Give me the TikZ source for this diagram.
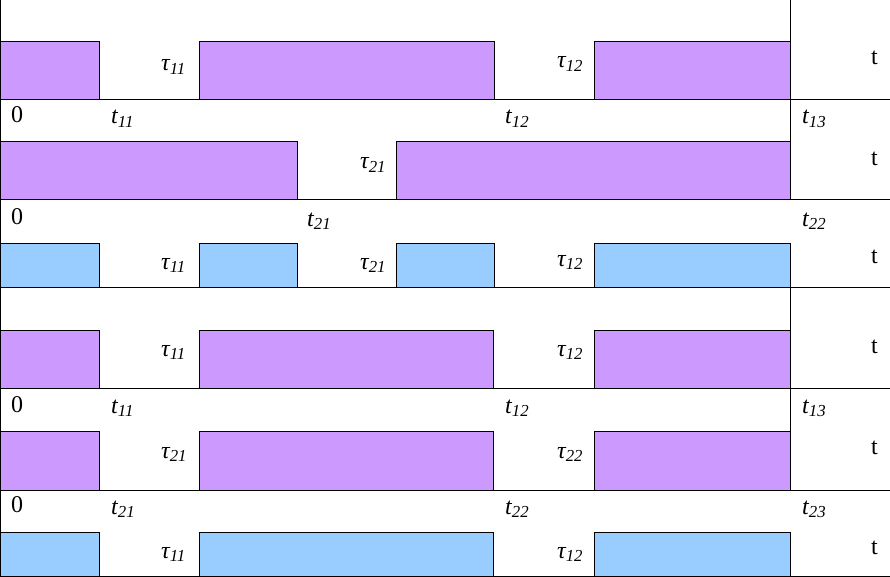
\documentclass[tikz,border=0pt]{standalone}
\usepackage{fontspec}
\setmainfont{Liberation Serif}
\definecolor{pur}{HTML}{CC99FF}
\definecolor{blu}{HTML}{99CCFF}
\begin{document}
\begin{tikzpicture}[x=1pt,y=-1pt,
  pbox/.style={fill=pur,draw=black,line width=1pt},
  bbox/.style={fill=blu,draw=black,line width=1pt},
  axis/.style={draw=black,line width=1pt},
  lbl/.style={anchor=base west,inner sep=0pt,font=\fontsize{24}{28}\selectfont}]
\useasboundingbox (0,0) rectangle (890,577);
\fill[white] (0,0) rectangle (890,577);
% row 1
\draw[pbox] (0.5,42) rectangle (99,100);
\draw[pbox] (199,42) rectangle (494,100);
\draw[pbox] (594,42) rectangle (790,100);
% row 2
\draw[pbox] (0.5,142) rectangle (297,200);
\draw[pbox] (396,142) rectangle (790,200);
% row 3
\draw[bbox] (0.5,243) rectangle (99,287);
\draw[bbox] (199,243) rectangle (297,287);
\draw[bbox] (396,243) rectangle (494,287);
\draw[bbox] (594,243) rectangle (790,287);
% row 4
\draw[pbox] (0.5,330) rectangle (99,388);
\draw[pbox] (199,330) rectangle (493,388);
\draw[pbox] (594,330) rectangle (790,388);
% row 5
\draw[pbox] (0.5,431) rectangle (99,490);
\draw[pbox] (199,431) rectangle (493,490);
\draw[pbox] (594,431) rectangle (790,490);
% row 6
\draw[bbox] (0.5,532) rectangle (99,576.5);
\draw[bbox] (199,532) rectangle (493,576.5);
\draw[bbox] (594,532) rectangle (790,576.5);
% axes
\draw[axis] (0.5,0) -- (0.5,577);
\draw[axis] (790,0) -- (790,200);
\draw[axis] (790,287) -- (790,490);
\draw[axis] (0,100) -- (890,100);
\draw[axis] (0,200) -- (890,200);
\draw[axis] (0,287) -- (890,287);
\draw[axis] (0,388) -- (890,388);
\draw[axis] (0,490) -- (890,490);
\draw[axis] (0,576.5) -- (890,576.5);
% labels row 1
\node[lbl] (ta1) at (161,71) {\textit{τ\textsubscript{11}}};
\node[lbl] (ta2) at (557,68) {\textit{τ\textsubscript{12}}};
\node[lbl] (T1) at (871,65) {t};
\node[lbl] (z1) at (11,123) {0};
\node[lbl] (s11) at (111,124) {\textit{t\textsubscript{11}}};
\node[lbl] (s12) at (505,124) {\textit{t\textsubscript{12}}};
\node[lbl] (s13) at (802,124) {\textit{t\textsubscript{13}}};
% row 2
\node[lbl] (tb1) at (360,169) {\textit{τ\textsubscript{21}}};
\node[lbl] (T2) at (871,166) {t};
\node[lbl] (z2) at (11,225) {0};
\node[lbl] (s21) at (307,226) {\textit{t\textsubscript{21}}};
\node[lbl] (s22) at (802,226) {\textit{t\textsubscript{22}}};
% row 3
\node[lbl] (tc1) at (161,269) {\textit{τ\textsubscript{11}}};
\node[lbl] (tc2) at (360,269) {\textit{τ\textsubscript{21}}};
\node[lbl] (tc3) at (557,266) {\textit{τ\textsubscript{12}}};
\node[lbl] (T3) at (871,263) {t};
% row 4
\node[lbl] (td1) at (161,356) {\textit{τ\textsubscript{11}}};
\node[lbl] (td2) at (557,356) {\textit{τ\textsubscript{12}}};
\node[lbl] (T4) at (871,353) {t};
\node[lbl] (z4) at (11,412) {0};
\node[lbl] (u11) at (111,413) {\textit{t\textsubscript{11}}};
\node[lbl] (u12) at (505,413) {\textit{t\textsubscript{12}}};
\node[lbl] (u13) at (802,413) {\textit{t\textsubscript{13}}};
% row 5
\node[lbl] (te1) at (161,458) {\textit{τ\textsubscript{21}}};
\node[lbl] (te2) at (557,458) {\textit{τ\textsubscript{22}}};
\node[lbl] (T5) at (871,454) {t};
\node[lbl] (z5) at (11,512) {0};
\node[lbl] (v21) at (111,514) {\textit{t\textsubscript{21}}};
\node[lbl] (v22) at (505,514) {\textit{t\textsubscript{22}}};
\node[lbl] (v23) at (802,514) {\textit{t\textsubscript{23}}};
% row 6
\node[lbl] (tf1) at (161,558) {\textit{τ\textsubscript{11}}};
\node[lbl] (tf2) at (557,558) {\textit{τ\textsubscript{12}}};
\node[lbl] (T6) at (871,554) {t};
\end{tikzpicture}
\end{document}
